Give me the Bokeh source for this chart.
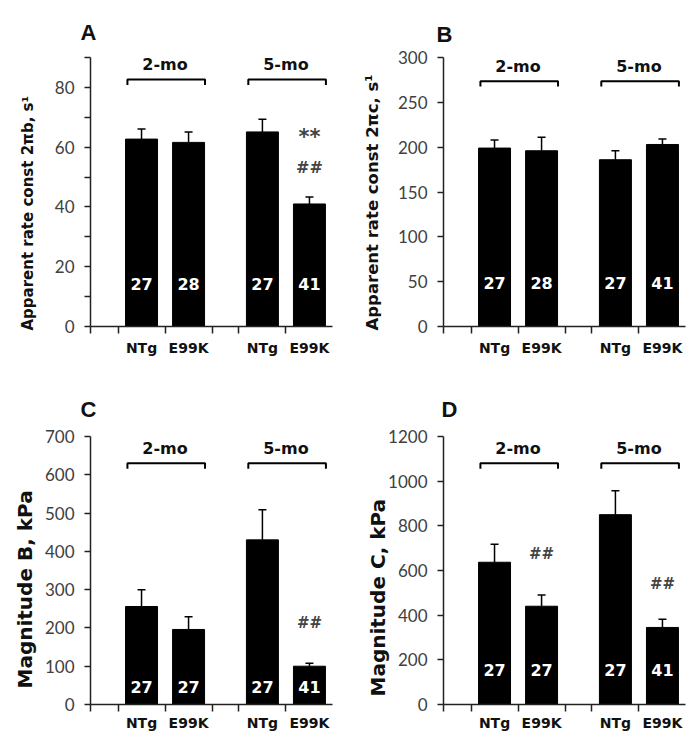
from bokeh.plotting import figure
from bokeh.layouts import column, row
from bokeh.models import FixedTicker, Range1d, Title, ColumnDataSource
from bokeh.core.properties import value
from bokeh.embed import file_html
from bokeh.resources import INLINE

# ---------------- data ----------------
groups = ["2-mo", "5-mo"]
genotypes = ["NTg", "E99K"]

A_mean = [62.7, 61.6, 65.1, 41.0]
A_err = [3.4, 3.5, 4.2, 2.3]
A_n = ["27", "28", "27", "41"]
A_marks = [(3, "**", 63.3, 21), (3, "##", 53.3, 16)]

B_mean = [199, 196, 186, 203]
B_err = [9, 15, 10, 6]
B_n = ["27", "28", "27", "41"]
B_marks = []

C_mean = [256, 196, 430, 100]
C_err = [44, 33, 79, 8]
C_n = ["27", "27", "27", "41"]
C_marks = [(3, "##", 213, 15)]

D_mean = [637, 440, 850, 345]
D_err = [80, 50, 107, 37]
D_n = ["27", "27", "27", "41"]
D_marks = [(1, "##", 673, 15), (3, "##", 539, 15)]

A_ylabel = "Apparent rate const 2\u03c0b, s\u00b9"
B_ylabel = "Apparent rate const 2\u03c0c, s\u00b9"
C_ylabel = "Magnitude B, kPa"
D_ylabel = "Magnitude C, kPa"

A_yticks = [0, 20, 40, 60, 80]
A_yminor = [10, 30, 50, 70, 90]
B_yticks = [0, 50, 100, 150, 200, 250, 300]
C_yticks = [0, 100, 200, 300, 400, 500, 600, 700]
D_yticks = [0, 200, 400, 600, 800, 1000, 1200]

# ---------------- layout helpers ----------------
GROUP_STEP = 2.57
BAR_W = 0.68
X_START = -1.085
X_END = 4.06

centers = []
cat_labels = []
for gi, g in enumerate(groups):
    for ti, t in enumerate(genotypes):
        centers.append(gi * GROUP_STEP + ti)
        cat_labels.append(t)

BOLD = value("DejaVu Sans")


def make_panel(letter, means, errs, ns, marks, ymax, yticks, yminor, ylabel,
               width, height, bl, br, bt, bb, lab_size, lab_offset, lab_standoff,
               n_px, br_frac, title_offset, title_standoff, xlab_standoff):
    frame_h = height - bt - bb
    ppu = frame_h / ymax
    p = figure(width=width, height=height, output_backend="svg", toolbar_location=None,
               x_range=Range1d(X_START, X_END), y_range=Range1d(0, ymax),
               min_border_left=bl, min_border_right=br, min_border_top=bt,
               min_border_bottom=bb, background_fill_color="white",
               border_fill_color="white", outline_line_color=None)
    p.grid.visible = False

    # panel letter
    p.title.text = letter
    p.title.text_font = "Liberation Sans"
    p.title.text_font_size = "22px"
    p.title.text_font_style = "bold"
    p.title.text_color = "#111111"
    p.title.align = "left"
    p.title.offset = title_offset
    p.title.standoff = title_standoff

    # y label as a left-side title
    p.add_layout(Title(text=ylabel, align="left", offset=lab_offset,
                       text_font="DejaVu Sans", text_font_style="bold",
                       text_font_size=f"{lab_size}px", text_color="#111111",
                       standoff=lab_standoff), "left")

    # bars
    src = ColumnDataSource(dict(x=centers, top=means, err=errs,
                                hi=[m + e for m, e in zip(means, errs)], n=ns))
    p.vbar(x="x", top="top", bottom=0, width=BAR_W, source=src,
           fill_color="black", line_color="black")
    p.segment(x0="x", y0="top", x1="x", y1="hi", source=src,
              line_color="black", line_width=1.5)
    p.scatter(x="x", y="hi", marker="dash", size=8, source=src,
              line_color="black", line_width=1.5)

    # n labels inside bars
    p.text(x="x", y=n_px / ppu, text="n", source=src, text_color="white",
           text_font=BOLD, text_font_style="bold", text_font_size="16px",
           text_align="center", text_baseline="middle")

    # group brackets
    by = ymax * br_frac
    drop = 5.5 / ppu
    xs, ys, gx = [], [], []
    for gi in range(len(groups)):
        x0 = centers[gi * 2] - 0.30
        x1 = centers[gi * 2 + 1] + 0.35
        xs.append([x0, x0, x1, x1])
        ys.append([by - drop, by, by, by - drop])
        gx.append((centers[gi * 2] + centers[gi * 2 + 1]) / 2)
    p.multi_line(xs=xs, ys=ys, line_color="black", line_width=2)
    p.text(x=gx, y=[by + 15 / ppu] * len(gx), text=groups, text_color="#111111",
           text_font=BOLD, text_font_style="bold", text_font_size="16px",
           text_align="center", text_baseline="middle")

    # significance marks
    for m in marks:
        p.text(x=[centers[m[0]]], y=[m[2]], text=[m[1]], text_color="#444444",
               text_font=BOLD, text_font_style="bold", text_font_size=f"{m[3]}px",
               text_align="center", text_baseline="middle")

    # y axis
    yax = p.yaxis[0]
    yax.ticker = FixedTicker(ticks=yticks, minor_ticks=yminor)
    yax.axis_line_width = 1.5
    yax.axis_line_color = "#222222"
    yax.major_tick_line_color = "#222222"
    yax.minor_tick_line_color = "#222222"
    yax.major_tick_line_width = 1.5
    yax.minor_tick_line_width = 1.5
    yax.major_tick_out = 6
    yax.major_tick_in = 0
    yax.minor_tick_out = 6
    yax.minor_tick_in = 0
    yax.major_label_text_font = "Lato"
    yax.major_label_text_font_size = "17px"
    yax.major_label_text_color = "#404040"
    yax.major_label_standoff = 10

    # x axis
    xminor = [X_START]
    for c in centers:
        xminor += [c - 0.5, c + 0.5]
    xax = p.xaxis[0]
    xax.ticker = FixedTicker(ticks=centers, minor_ticks=xminor)
    overrides = {}
    for c, lab in zip(centers, cat_labels):
        overrides[c] = lab
    xax.major_label_overrides = overrides
    xax.axis_line_width = 1.5
    xax.axis_line_color = "#222222"
    xax.major_tick_out = 0
    xax.major_tick_in = 0
    xax.minor_tick_out = 7
    xax.minor_tick_in = 0
    xax.minor_tick_line_width = 1.5
    xax.minor_tick_line_color = "#222222"
    xax.major_label_text_font = "DejaVu Sans"
    xax.major_label_text_font_style = "bold"
    xax.major_label_text_font_size = "14px"
    xax.major_label_text_color = "#111111"
    xax.major_label_standoff = xlab_standoff
    return p


pA = make_panel("A", A_mean, A_err, A_n, A_marks, 90, A_yticks, A_yminor, A_ylabel,
                345, 376, 90, 13, 57, 50, 15, -4, 30, 43, 0.918, -10, 25, 6)
pB = make_panel("B", B_mean, B_err, B_n, B_marks, 300, B_yticks, [], B_ylabel,
                345, 376, 98, 5, 54, 50, 16.5, -4, 26, 44, 0.912, -7, 21, 6)
pC = make_panel("C", C_mean, C_err, C_n, C_marks, 700, C_yticks, [], C_ylabel,
                345, 375, 90, 13, 60, 47, 20, 16, 9, 18, 0.90, -10, 30, 3)
pD = make_panel("D", D_mean, D_err, D_n, D_marks, 1200, D_yticks, [], D_ylabel,
                345, 375, 98, 5, 60, 47, 20, 8, -8, 35, 0.90, -2, 30, 3)

layout = column(row(pA, pB), row(pC, pD))
open("out.html", "w").write(file_html(layout, INLINE))
